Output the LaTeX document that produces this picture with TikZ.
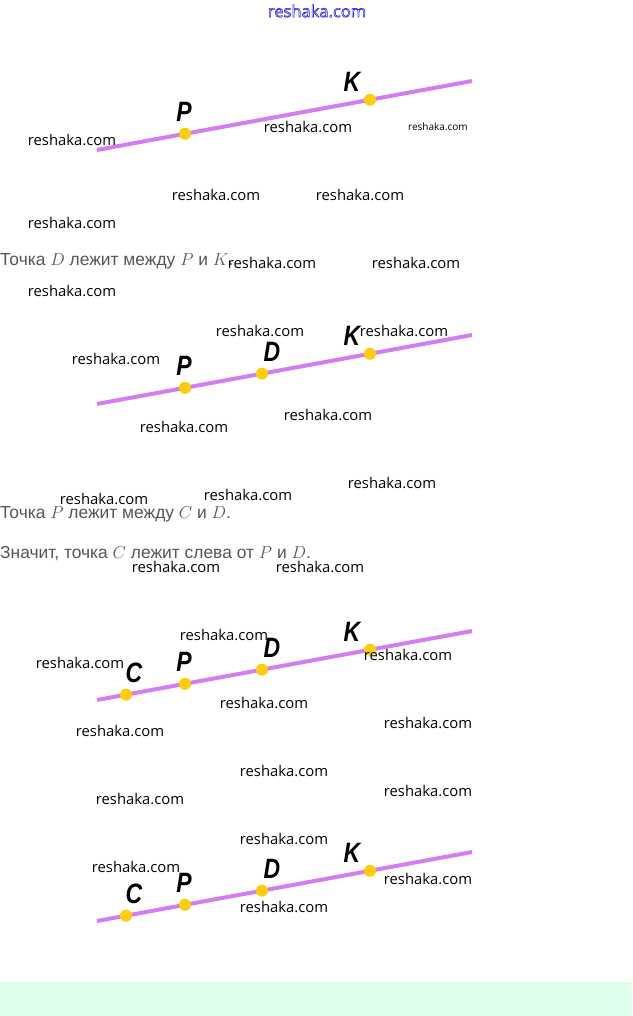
\documentclass[tikz,border=0pt]{standalone}
\usepackage{fontspec}
\setmainfont{Liberation Sans}
\newfontfamily\wmfont{Open Sans}
\newfontfamily\lblfont[FakeStretch=0.82]{Liberation Sans}
\usetikzlibrary{calc}
\definecolor{linecol}{RGB}{212,125,240}
\definecolor{dotcol}{RGB}{252,206,10}
\definecolor{textgrey}{RGB}{85,85,85}
\definecolor{bandgreen}{RGB}{222,255,236}
\definecolor{wmblue}{RGB}{40,40,220}
\newcommand{\outlinetext}[1]{\special{pdf:literal direct 1 Tr 0.6 w}#1\special{pdf:literal direct 0 Tr}}
\begin{document}
\begin{tikzpicture}[x=1pt,y=-1pt,
  wm/.style={font=\wmfont\fontsize{14.8}{16}\selectfont, text=black, inner sep=0},
  wmsmall/.style={font=\wmfont\fontsize{10}{11}\selectfont, text=black, inner sep=0},
  wmtop/.style={font=\wmfont\fontsize{16.5}{18}\selectfont, text=wmblue, inner sep=0},
  dot/.style={circle, fill=dotcol, minimum size=12pt, inner sep=0},
  lbl/.style={font=\lblfont\bfseries\itshape\fontsize{28}{30}\selectfont, inner sep=0},
  txt/.style={font=\fontsize{17.4}{20}\selectfont, text=textgrey, anchor=west, inner sep=0},
  seg/.style={line width=4pt, draw=linecol}]
\useasboundingbox (0,0) rectangle (632,1016);
\fill[bandgreen] (0,982) rectangle (632,1016);

% ---------- figure 1
\coordinate (a1) at (97,150);
\coordinate (b1) at (472,81);
\draw[seg] (a1) -- (b1);
\node[dot] (p1) at ($(a1)!0.2347!(b1)$) {};
\node[dot] (k1) at ($(a1)!0.728!(b1)$) {};
\node[lbl] (lp1) at (184,112) {P};
\node[lbl] (lk1) at (352,82) {K};

\node[txt] (t1) at (0,261) {Точка $D$ лежит между $P$ и $K$.};

% ---------- figure 2
\coordinate (a2) at (97,404);
\coordinate (b2) at (472,335);
\draw[seg] (a2) -- (b2);
\node[dot] (p2) at ($(a2)!0.2347!(b2)$) {};
\node[dot] (d2) at ($(a2)!0.44!(b2)$) {};
\node[dot] (k2) at ($(a2)!0.728!(b2)$) {};
\node[lbl] (lp2) at (184,366) {P};
\node[lbl] (ld2) at (272,352) {D};
\node[lbl] (lk2) at (352,336) {K};

\node[txt] (t2) at (0,514) {Точка $P$ лежит между $C$ и $D$.};
\node[txt] (t3) at (0,554) {Значит, точка $C$ лежит слева от $P$ и $D$.};

% ---------- figure 3
\coordinate (a3) at (97,700);
\coordinate (b3) at (472,631);
\draw[seg] (a3) -- (b3);
\node[dot] (c3) at ($(a3)!0.0773!(b3)$) {};
\node[dot] (p3) at ($(a3)!0.2347!(b3)$) {};
\node[dot] (d3) at ($(a3)!0.44!(b3)$) {};
\node[dot] (k3) at ($(a3)!0.728!(b3)$) {};
\node[lbl] (lc3) at (134,673) {C};
\node[lbl] (lp3) at (184,662) {P};
\node[lbl] (ld3) at (272,648) {D};
\node[lbl] (lk3) at (352,632) {K};

% ---------- figure 4
\coordinate (a4) at (97,921);
\coordinate (b4) at (472,852);
\draw[seg] (a4) -- (b4);
\node[dot] (c4) at ($(a4)!0.0773!(b4)$) {};
\node[dot] (p4) at ($(a4)!0.2347!(b4)$) {};
\node[dot] (d4) at ($(a4)!0.44!(b4)$) {};
\node[dot] (k4) at ($(a4)!0.728!(b4)$) {};
\node[lbl] (lc4) at (134,894) {C};
\node[lbl] (lp4) at (184,883) {P};
\node[lbl] (ld4) at (272,869) {D};
\node[lbl] (lk4) at (352,853) {K};

% ---------- watermarks
\node[wmtop] (w0) at (317,11) {\outlinetext{reshaka.com}};
\node[wm] (w1) at (72,140) {reshaka.com};
\node[wm] (w2) at (308,127) {reshaka.com};
\node[wmsmall] (w3) at (438,127) {reshaka.com};
\node[wm] (w4) at (216,195) {reshaka.com};
\node[wm] (w5) at (360,195) {reshaka.com};
\node[wm] (w6) at (72,223) {reshaka.com};
\node[wm] (w7) at (272,263) {reshaka.com};
\node[wm] (w8) at (416,263) {reshaka.com};
\node[wm] (w9) at (72,291) {reshaka.com};
\node[wm] (w10) at (260,331) {reshaka.com};
\node[wm] (w11) at (404,331) {reshaka.com};
\node[wm] (w12) at (116,359) {reshaka.com};
\node[wm] (w13) at (184,427) {reshaka.com};
\node[wm] (w14) at (328,415) {reshaka.com};
\node[wm] (w15) at (392,483) {reshaka.com};
\node[wm] (w16) at (104,499) {reshaka.com};
\node[wm] (w17) at (248,495) {reshaka.com};
\node[wm] (w18) at (176,567) {reshaka.com};
\node[wm] (w19) at (320,567) {reshaka.com};
\node[wm] (w20) at (224,635) {reshaka.com};
\node[wm] (w21) at (80,663) {reshaka.com};
\node[wm] (w22) at (408,655) {reshaka.com};
\node[wm] (w23) at (264,703) {reshaka.com};
\node[wm] (w24) at (428,723) {reshaka.com};
\node[wm] (w25) at (120,731) {reshaka.com};
\node[wm] (w26) at (284,771) {reshaka.com};
\node[wm] (w27) at (140,799) {reshaka.com};
\node[wm] (w28) at (428,791) {reshaka.com};
\node[wm] (w29) at (284,839) {reshaka.com};
\node[wm] (w30) at (136,867) {reshaka.com};
\node[wm] (w31) at (428,879) {reshaka.com};
\node[wm] (w32) at (284,907) {reshaka.com};
\end{tikzpicture}
\end{document}
